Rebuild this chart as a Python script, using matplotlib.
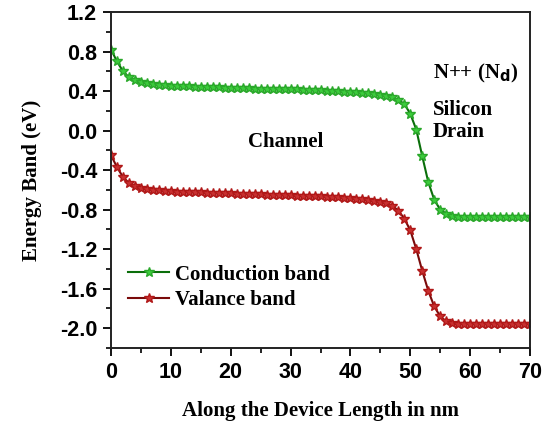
import matplotlib
matplotlib.use("Agg")
import matplotlib.pyplot as plt
from matplotlib.ticker import MultipleLocator

x_nm = list(range(0, 71))
conduction = [0.82, 0.70, 0.60, 0.54, 0.51, 0.49, 0.48, 0.47, 0.465, 0.46, 0.455,
              0.452, 0.45, 0.448, 0.446, 0.444, 0.442, 0.44, 0.438, 0.436, 0.434,
              0.432, 0.43, 0.428, 0.426, 0.424, 0.422, 0.42, 0.419, 0.418, 0.417,
              0.416, 0.414, 0.412, 0.41, 0.408, 0.405, 0.402, 0.399, 0.395, 0.391,
              0.387, 0.382, 0.376, 0.369, 0.36, 0.35, 0.335, 0.31, 0.27, 0.17,
              0.01, -0.26, -0.52, -0.70, -0.80, -0.84, -0.86, -0.87, -0.87, -0.87,
              -0.87, -0.87, -0.87, -0.87, -0.87, -0.87, -0.87, -0.87, -0.87, -0.87]
valence = [-0.25, -0.37, -0.47, -0.53, -0.56, -0.58, -0.59, -0.60, -0.605, -0.61, -0.615,
           -0.618, -0.62, -0.622, -0.624, -0.626, -0.628, -0.63, -0.632, -0.634, -0.636,
           -0.638, -0.64, -0.642, -0.644, -0.646, -0.648, -0.65, -0.652, -0.654, -0.656,
           -0.658, -0.66, -0.662, -0.664, -0.666, -0.669, -0.672, -0.676, -0.68, -0.685,
           -0.69, -0.696, -0.703, -0.711, -0.72, -0.735, -0.76, -0.81, -0.89, -1.01,
           -1.20, -1.42, -1.62, -1.78, -1.88, -1.93, -1.95, -1.955, -1.955, -1.955,
           -1.955, -1.955, -1.955, -1.955, -1.955, -1.955, -1.955, -1.955, -1.955, -1.955]

fig = plt.figure(figsize=(5.45, 4.23), dpi=100)
ax = fig.add_axes([0.2037, 0.1773, 0.7688, 0.7943])

ax.plot(x_nm, conduction, color="#0a6e0a", lw=1.5, marker="*", ms=7,
        mfc="#3ccc3c", mec="#2aa82a", label="Conduction band")
ax.plot(x_nm, valence, color="#7a0a0a", lw=1.5, marker="*", ms=7,
        mfc="#c83030", mec="#b01818", label="Valance band")

ax.set_xlim(0, 70)
ax.set_ylim(-2.2, 1.2)
ax.xaxis.set_major_locator(MultipleLocator(10))
ax.xaxis.set_minor_locator(MultipleLocator(5))
ax.yaxis.set_minor_locator(MultipleLocator(0.2))
ax.set_yticks([1.2, 0.8, 0.4, 0.0, -0.4, -0.8, -1.2, -1.6, -2.0])
ax.set_yticklabels(["1.2", "0.8", "0.4", "0.0", "-0.4", "-0.8", "-1.2", "-1.6", "-2.0"])

ax.tick_params(which="major", direction="out", length=6, width=1.3,
               labelsize=15.5, pad=4)
ax.tick_params(which="minor", direction="out", length=3.5, width=1.2)
for lab in ax.get_xticklabels() + ax.get_yticklabels():
    lab.set_fontfamily("Liberation Sans")
    lab.set_fontweight("bold")
for sp in ax.spines.values():
    sp.set_linewidth(1.4)
    sp.set_color("#222222")

serif = "Liberation Serif"
ax.set_xlabel("Along the Device Length in nm", fontfamily=serif,
              fontweight="bold", fontsize=15, labelpad=13)
ax.set_ylabel("Energy Band (eV)", fontfamily=serif, fontweight="bold",
              fontsize=15, labelpad=13)

ax.text(29.1, -0.12, "Channel", fontfamily=serif, fontweight="bold",
        fontsize=15, ha="center", va="center")
ax.text(53.8, 0.58, r"N++ (N$_{\mathbf{d}}$)", fontfamily=serif, fontweight="bold",
        fontsize=15, ha="left", va="center")
ax.text(53.8, 0.21, "Silicon", fontfamily=serif, fontweight="bold",
        fontsize=15, ha="left", va="center")
ax.text(53.8, -0.01, "Drain", fontfamily=serif, fontweight="bold",
        fontsize=15, ha="left", va="center")

leg = ax.legend(loc="lower left", bbox_to_anchor=(0.005, 0.07), frameon=False,
                prop={"family": serif, "weight": "bold", "size": 15},
                handlelength=2.0, handletextpad=0.25, labelspacing=0.25,
                markerscale=1.0, borderaxespad=0.3)

fig.savefig("out.png", dpi=100)
